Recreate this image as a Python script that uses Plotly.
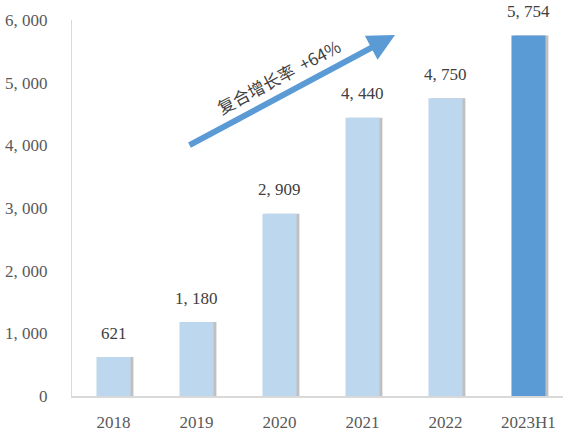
import plotly.graph_objects as go

categories = ["2018", "2019", "2020", "2021", "2022", "2023H1"]
values = [621, 1180, 2909, 4440, 4750, 5754]
labels = ["621", "1, 180", "2, 909", "4, 440", "4, 750", "5, 754"]
colors = ["#BDD7EE"] * 5 + ["#5B9BD5"]
y_ticks = [0, 1000, 2000, 3000, 4000, 5000, 6000]
y_tick_text = ["0", "1, 000", "2, 000", "3, 000", "4, 000", "5, 000", "6, 000"]

bw = 0.41
fig = go.Figure()
# shadow
fig.add_trace(go.Bar(x=categories, y=values, width=bw, offset=-bw / 2 + 0.035,
                     marker=dict(color="rgba(130,130,130,0.5)", line=dict(width=0)),
                     hoverinfo="skip", showlegend=False))
fig.add_trace(go.Bar(x=categories, y=values, width=bw, offset=-bw / 2,
                     marker=dict(color=colors, line=dict(width=0)),
                     showlegend=False))

for i, (v, t) in enumerate(zip(values, labels)):
    fig.add_annotation(x=i, y=v, text=t, showarrow=False, yanchor="middle",
                       yshift=24, font=dict(family="Liberation Serif", size=17, color="#404040"))

fig.update_layout(
    width=563, height=436,
    margin=dict(l=72, r=0, t=20, b=40),
    paper_bgcolor="white", plot_bgcolor="white",
    barmode="overlay",
    xaxis=dict(type="category", range=[-0.5, 5.416], showgrid=False, showline=True, linecolor="#D9D9D9",
               linewidth=2, ticks="", tickfont=dict(family="Liberation Serif", size=17, color="#595959"),
               ticklabelstandoff=10),
    yaxis=dict(range=[0, 6000], tickvals=y_ticks, ticktext=y_tick_text, showgrid=False,
               showline=True, linecolor="#D9D9D9", linewidth=1, ticks="", zeroline=False,
               tickfont=dict(family="Liberation Serif", size=17, color="#595959"),
               ticklabelstandoff=20),
)

# growth arrow
fig.add_annotation(xref="x domain", yref="y domain", x=(395 - 72) / 491, y=(396 - 35) / 376,
                   ax=(188 - 72) / 491, ay=(396 - 146) / 376, axref="x domain", ayref="y domain",
                   showarrow=True, arrowhead=2, arrowsize=0.9, arrowwidth=6,
                   arrowcolor="#5B9BD5", text="")
fig.add_annotation(xref="x domain", yref="y domain", x=(278 - 72) / 491, y=(396 - 76) / 376,
                   xanchor="center", yanchor="middle",
                   text="复合增长率  +64%", showarrow=False, textangle=-28,
                   font=dict(family="Noto Sans CJK SC", size=17, color="#404040"))

fig.write_html("out.html")
